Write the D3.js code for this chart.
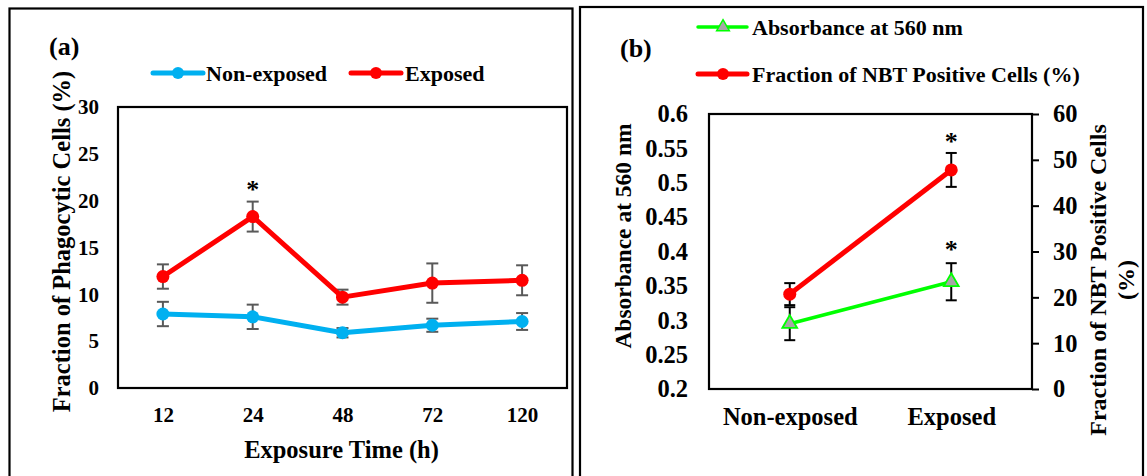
<!DOCTYPE html>
<html>
<head>
<meta charset="utf-8">
<script src="https://cdn.jsdelivr.net/npm/d3@7"></script>
<style>
  html, body { margin: 0; padding: 0; background: #fff; }
  svg { display: block; }
  text { font-family: "Liberation Serif", "Times New Roman", serif; font-weight: bold; fill: #000; }
</style>
</head>
<body>
<svg id="chart" width="1147" height="476"></svg>
<script>
// ---------- Panel (a) data ----------
const timeLabels = ["12", "24", "48", "72", "120"];
const nonExposed = [7.9, 7.6, 5.9, 6.7, 7.1];
const nonExposedErr = [1.3, 1.3, 0.5, 0.7, 0.9];
const exposed = [11.9, 18.3, 9.7, 11.2, 11.5];
const exposedErr = [1.3, 1.6, 0.8, 2.1, 1.6];
const exposedSig = [false, true, false, false, false];
const yTicksA = [0, 5, 10, 15, 20, 25, 30];

// ---------- Panel (b) data ----------
const groups = ["Non-exposed", "Exposed"];
const absorbance = [0.295, 0.356];
const absorbanceErr = [0.024, 0.027];
const absorbanceSig = [false, true];
const nbtPositive = [20.7, 47.8];
const nbtPositiveErr = [2.4, 3.7];
const nbtPositiveSig = [false, true];
const yTicksBLeft = [0.2, 0.25, 0.3, 0.35, 0.4, 0.45, 0.5, 0.55, 0.6];
const yTicksBRight = [0, 10, 20, 30, 40, 50, 60];

const BLUE = "#00B0F0", RED = "#FF0000", GREEN = "#00FF00", TRI_FILL = "#A6A6A6", ERR_GRAY = "#595959";

const svg = d3.select("#chart");

// Panel frames
svg.append("rect").attr("x", 9.5).attr("y", 8.5).attr("width", 563).attr("height", 520)
  .attr("fill", "none").attr("stroke", "#000").attr("stroke-width", 2.2);
svg.append("rect").attr("x", 580).attr("y", 7).attr("width", 563).attr("height", 520)
  .attr("fill", "none").attr("stroke", "#000").attr("stroke-width", 2.2);

// ================= Panel (a) =================
const A = { l: 118, r: 567, t: 107, b: 388 };
const xA = d3.scalePoint().domain(timeLabels).range([A.l, A.r]).padding(0.5);
const yA = d3.scaleLinear().domain([0, 30]).range([A.b, A.t]);
const gA = svg.append("g");

// y axis
const yAxisA = gA.append("g").attr("transform", `translate(${A.l},0)`)
  .call(d3.axisLeft(yA).tickValues(yTicksA).tickSize(0).tickPadding(19).tickFormat(d3.format("d")));
yAxisA.select(".domain").remove();
yAxisA.selectAll("text").style("font-size", "21px").attr("fill", "#000")
  .style("font-family", '"Liberation Serif", serif').style("font-weight", "bold");

// x axis
const xAxisA = gA.append("g").attr("transform", `translate(0,${A.b})`)
  .call(d3.axisBottom(xA).tickSize(0).tickPadding(19));
xAxisA.select(".domain").remove();
xAxisA.selectAll("text").style("font-size", "21px").attr("fill", "#000")
  .style("font-family", '"Liberation Serif", serif').style("font-weight", "bold");

// plot frame
gA.append("rect").attr("x", A.l).attr("y", A.t).attr("width", A.r - A.l).attr("height", A.b - A.t)
  .attr("fill", "none").attr("stroke", "#000").attr("stroke-width", 2.2);

function errBars(g, xs, vals, errs, x, y, color, cap, sw) {
  vals.forEach((v, i) => {
    const cx = x(xs[i]);
    const y1 = y(v + errs[i]), y2 = y(v - errs[i]);
    g.append("line").attr("x1", cx).attr("x2", cx).attr("y1", y1).attr("y2", y2)
      .attr("stroke", color).attr("stroke-width", sw);
    [y1, y2].forEach(yy => g.append("line").attr("x1", cx - cap / 2).attr("x2", cx + cap / 2)
      .attr("y1", yy).attr("y2", yy).attr("stroke", color).attr("stroke-width", sw));
  });
}

function series(g, xs, vals, x, y, color, width) {
  const line = d3.line().x((d, i) => x(xs[i])).y(d => y(d));
  g.append("path").datum(vals).attr("d", line).attr("fill", "none")
    .attr("stroke", color).attr("stroke-width", width).attr("stroke-linejoin", "round");
}

function circles(g, xs, vals, x, y, color, r) {
  g.selectAll(null).data(vals).enter().append("circle")
    .attr("cx", (d, i) => x(xs[i])).attr("cy", d => y(d)).attr("r", r).attr("fill", color);
}

errBars(gA, timeLabels, nonExposed, nonExposedErr, xA, yA, ERR_GRAY, 12, 2);
errBars(gA, timeLabels, exposed, exposedErr, xA, yA, ERR_GRAY, 12, 2);
series(gA, timeLabels, nonExposed, xA, yA, BLUE, 5);
series(gA, timeLabels, exposed, xA, yA, RED, 5);
circles(gA, timeLabels, nonExposed, xA, yA, BLUE, 6.5);
circles(gA, timeLabels, exposed, xA, yA, RED, 6.5);

// significance markers
exposed.forEach((v, i) => {
  if (!exposedSig[i]) return;
  gA.append("text").attr("x", xA(timeLabels[i])).attr("y", yA(v + exposedErr[i]) - 4)
    .attr("text-anchor", "middle").style("font-size", "26px").text("*");
});

// titles
gA.append("text").attr("transform", `translate(70,${(A.t + A.b) / 2 - 6}) rotate(-90)`)
  .attr("text-anchor", "middle").style("font-size", "24.5px").text("Fraction of Phagocytic Cells (%)");
gA.append("text").attr("x", (A.l + A.r) / 2 - 1).attr("y", 458).attr("text-anchor", "middle")
  .style("font-size", "24.5px").text("Exposure Time (h)");
gA.append("text").attr("x", 49).attr("y", 55).style("font-size", "26px").text("(a)");

// legend (a)
function legendLine(g, x1, x2, y, color, sw) {
  g.append("line").attr("x1", x1).attr("x2", x2).attr("y1", y).attr("y2", y)
    .attr("stroke", color).attr("stroke-width", sw).attr("stroke-linecap", "round");
}
legendLine(gA, 153, 203, 73, BLUE, 5);
gA.append("circle").attr("cx", 178).attr("cy", 73).attr("r", 6).attr("fill", BLUE);
gA.append("text").attr("x", 206).attr("y", 80.5).style("font-size", "22px").text("Non-exposed");
legendLine(gA, 351, 401, 73, RED, 5);
gA.append("circle").attr("cx", 376).attr("cy", 73).attr("r", 6).attr("fill", RED);
gA.append("text").attr("x", 405).attr("y", 80.5).style("font-size", "22px").text("Exposed");

// ================= Panel (b) =================
const B = { l: 709, r: 1032, t: 114, b: 389 };
const xB = d3.scalePoint().domain(groups).range([B.l, B.r]).padding(0.5);
const yBL = d3.scaleLinear().domain([0.2, 0.6]).range([B.b, B.t]);
const yBR = d3.scaleLinear().domain([0, 60]).range([B.b, B.t]);
const gB = svg.append("g");

const yAxisBL = gB.append("g").attr("transform", `translate(${B.l},0)`)
  .call(d3.axisLeft(yBL).tickValues(yTicksBLeft).tickSize(0).tickPadding(21).tickFormat(d => String(+d.toFixed(2))));
yAxisBL.select(".domain").remove();
const yAxisBR = gB.append("g").attr("transform", `translate(${B.r},0)`)
  .call(d3.axisRight(yBR).tickValues(yTicksBRight).tickSize(7).tickPadding(14).tickFormat(d3.format("d")));
yAxisBR.select(".domain").remove();
yAxisBR.selectAll("line").attr("stroke", "#000").attr("stroke-width", 2);
const xAxisB = gB.append("g").attr("transform", `translate(0,${B.b})`)
  .call(d3.axisBottom(xB).tickSize(0).tickPadding(18.5));
xAxisB.select(".domain").remove();
[yAxisBL, yAxisBR, xAxisB].forEach(ax => ax.selectAll("text").style("font-size", "24.5px").attr("fill", "#000")
  .style("font-family", '"Liberation Serif", serif').style("font-weight", "bold"));

gB.append("rect").attr("x", B.l).attr("y", B.t).attr("width", B.r - B.l).attr("height", B.b - B.t)
  .attr("fill", "none").attr("stroke", "#000").attr("stroke-width", 2.2);

// green absorbance series
series(gB, groups, absorbance, xB, yBL, GREEN, 3.5);
errBars(gB, groups, absorbance, absorbanceErr, xB, yBL, "#000", 11, 2);
// red NBT series
errBars(gB, groups, nbtPositive, nbtPositiveErr, xB, yBR, "#000", 11, 2);
series(gB, groups, nbtPositive, xB, yBR, RED, 5);
circles(gB, groups, nbtPositive, xB, yBR, RED, 6.5);

const tri = d3.symbol().type(d3.symbolTriangle).size(95);
gB.selectAll(null).data(absorbance).enter().append("path")
  .attr("d", tri)
  .attr("transform", (d, i) => `translate(${xB(groups[i])},${yBL(d)})`)
  .attr("fill", TRI_FILL).attr("stroke", GREEN).attr("stroke-width", 1.8);

absorbance.forEach((v, i) => {
  if (!absorbanceSig[i]) return;
  gB.append("text").attr("x", xB(groups[i])).attr("y", yBL(v + absorbanceErr[i]) - 5)
    .attr("text-anchor", "middle").style("font-size", "26px").text("*");
});
nbtPositive.forEach((v, i) => {
  if (!nbtPositiveSig[i]) return;
  gB.append("text").attr("x", xB(groups[i])).attr("y", yBR(v + nbtPositiveErr[i]) - 3)
    .attr("text-anchor", "middle").style("font-size", "26px").text("*");
});

// titles
gB.append("text").attr("transform", `translate(631,236) rotate(-90)`)
  .attr("text-anchor", "middle").style("font-size", "23.5px").text("Absorbance at 560 nm");
const rt = gB.append("text").attr("transform", `translate(1106,280) rotate(-90)`)
  .attr("text-anchor", "middle").style("font-size", "24px");
rt.append("tspan").attr("x", 0).attr("y", 0).text("Fraction of NBT Positive Cells");
rt.append("tspan").attr("x", 0).attr("y", 28).text("(%)");
gB.append("text").attr("x", 620).attr("y", 57).style("font-size", "26px").text("(b)");

// legend (b)
legendLine(gB, 698, 747, 27, GREEN, 3.5);
gB.append("path").attr("d", d3.symbol().type(d3.symbolTriangle).size(70))
  .attr("transform", "translate(723,27)").attr("fill", TRI_FILL).attr("stroke", GREEN).attr("stroke-width", 1.5);
gB.append("text").attr("x", 752).attr("y", 35).style("font-size", "22px").text("Absorbance at 560 nm");
legendLine(gB, 698, 747, 74, RED, 5);
gB.append("circle").attr("cx", 723).attr("cy", 74).attr("r", 6).attr("fill", RED);
gB.append("text").attr("x", 752).attr("y", 82).style("font-size", "22px").text("Fraction of NBT Positive Cells (%)");
</script>
</body>
</html>
